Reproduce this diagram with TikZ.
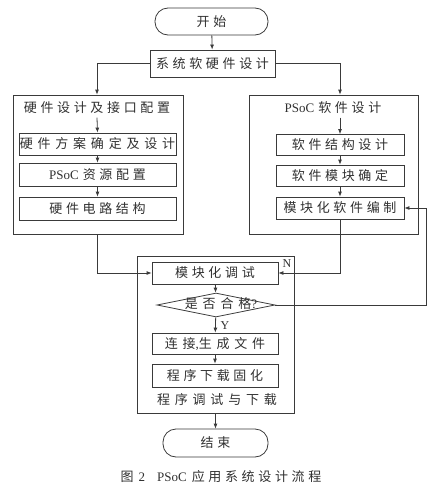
\documentclass[tikz,border=0pt]{standalone}
\usepackage{fontspec}
\setmainfont{Liberation Serif}
\newfontfamily\cjk[LetterSpace=28]{Noto Sans CJK SC}
\newfontfamily\cjkw[LetterSpace=37]{Noto Sans CJK SC}
\usetikzlibrary{arrows.meta,shapes.geometric}
\definecolor{lc}{HTML}{3A3A3A}
\definecolor{tc}{HTML}{303030}
\begin{document}
\begin{tikzpicture}[x=1pt,y=-1pt,
  every node/.style={text=tc,font=\fontsize{13}{15}\selectfont},
  box/.style={draw=lc,line width=0.8pt,inner sep=0pt},
  term/.style={box,rounded corners=13pt},
  arr/.style={draw=lc,line width=0.8pt,-{Latex[length=5pt,width=4pt]}},
  ln/.style={draw=lc,line width=0.8pt}]
\useasboundingbox (0,0) rectangle (446,490);
% start and system
\node[term,minimum width=113pt,minimum height=27pt] (start) at (211.5,21.5) {\cjk 开始};
\node[box,minimum width=125pt,minimum height=27pt] (sys) at (212.5,63.5) {\cjk 系统软硬件设计};
% left group
\node[box,minimum width=170pt,minimum height=139pt] (lbig) at (98,164.5) {};
\node (ltitle) at (97,108) {\cjk 硬件设计及接口配置};
\node[box,minimum width=157pt,minimum height=22pt] (b1) at (97.5,144) {\cjkw 硬件方案确定及设计};
\node[box,minimum width=157pt,minimum height=23pt] (b2) at (97.5,174.5) {{\rmfamily PSoC}\hspace{4pt}{\cjk 资源配置}};
\node[box,minimum width=157pt,minimum height=23pt] (b3) at (97.5,208.5) {\cjk 硬件电路结构};
% right group
\node[box,minimum width=169pt,minimum height=139pt] (rbig) at (333.5,164.5) {};
\node (rtitle) at (333,108) {{\rmfamily PSoC}\hspace{4pt}{\cjk 软件设计}};
\node[box,minimum width=128pt,minimum height=21pt] (r1) at (340,145) {\cjk 软件结构设计};
\node[box,minimum width=128pt,minimum height=21pt] (r2) at (340,175.5) {\cjk 软件模块确定};
\node[box,minimum width=128pt,minimum height=22pt] (r3) at (340,208) {\cjk 模块化软件编制};
% bottom group
\node[box,minimum width=157pt,minimum height=157pt] (bbig) at (215.5,334.5) {};
\node[box,minimum width=126pt,minimum height=22pt] (m1) at (215,273) {\cjk 模块化调试};
\node[box,diamond,minimum width=118pt,minimum height=24pt,aspect=5] (dia) at (216,305) {};
\node (diat) at (221,304) {{\cjkw 是否合格}{\rmfamily ?}};
\node[box,minimum width=126pt,minimum height=21pt] (c1) at (215,343.5) {{\cjkw 连接}{\rmfamily ,}{\cjkw 生成文件}};
\node[box,minimum width=126pt,minimum height=23pt] (c2) at (215,375.5) {\cjk 程序下载固化};
\node (btitle) at (217,400) {\cjkw 程序调试与下载};
\node[term,minimum width=105pt,minimum height=28pt] (end) at (215.5,443) {\cjk 结束};
\node[font=\fontsize{13}{15}\selectfont] (cap) at (221,477) {{\cjk 图}\hspace{5pt}2\hspace{12pt}PSoC\hspace{5pt}{\cjk 应用系统设计流程}};
% labels
\node[font=\fontsize{12}{14}\selectfont] (nlab) at (287,264) {N};
\node[font=\fontsize{12}{14}\selectfont] (ylab) at (225,326) {Y};
% connectors
\draw[arr] (start) -- (sys);
\draw[arr] (sys.west) -| (ltitle.north |- lbig.north);
\draw[arr] (sys.east) -| (r1.north |- rbig.north);
\draw[arr] (ltitle.south) -- (b1.north);
\draw[arr] (b1) -- (b2);
\draw[arr] (b2) -- (b3);
\draw[arr] (r1.north |- rtitle.south) -- (r1.north);
\draw[arr] (r1) -- (r2);
\draw[arr] (r2) -- (r3);
\draw[arr] (ltitle.south |- lbig.south) |- (m1.west);
\draw[arr] (r3.south) |- (m1.east);
\draw[arr] (m1) -- (dia);
\draw[arr] (dia) -- (c1);
\draw[arr] (c1) -- (c2);
\draw[arr] (bbig) -- (end);
\coordinate (fb) at (426,305);
\draw[arr] (dia.east) -- (fb) |- (r3.east);
\end{tikzpicture}
\end{document}
